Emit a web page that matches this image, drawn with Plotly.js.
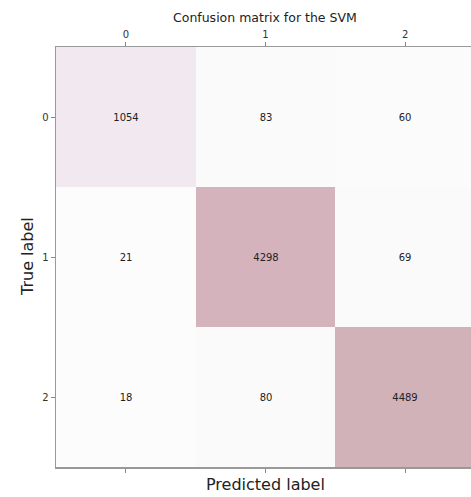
<!DOCTYPE html>
<html><head><meta charset="utf-8">
<script src="https://cdn.plot.ly/plotly-3.0.1.min.js"></script>
<style>html,body{margin:0;padding:0;overflow:hidden;background:#fff;}</style>
</head><body><div id="chart"></div>
<script>
const predictedLabels = [0, 1, 2];
const trueLabels = [0, 1, 2];
const row0 = [1054, 83, 60];
const row1 = [21, 4298, 69];
const row2 = [18, 80, 4489];
const z = [row0, row1, row2];
const zmax = 4489;

const trace = {
  type: 'heatmap',
  x: predictedLabels,
  y: trueLabels,
  z: z,
  zmin: 0,
  zmax: zmax,
  colorscale: [
    [0, '#fcfcfe'],
    [0.02, '#fafafa'],
    [1054/zmax, '#f1e8f0'],
    [4298/zmax, '#d5b3bd'],
    [1, '#d1b2b9']
  ],
  showscale: false,
  texttemplate: '%{z}',
  textfont: {family: 'DejaVu Sans', size: 10, color: '#222'},
  hoverinfo: 'skip'
};

const layout = {
  width: 480, height: 497,
  margin: {l: 56, r: 5, t: 47, b: 30},
  paper_bgcolor: '#fff', plot_bgcolor: '#fff',
  font: {family: 'DejaVu Sans', color: '#333'},
  xaxis: {
    side: 'top', tickvals: predictedLabels, ticktext: predictedLabels.map(String),
    range: [-0.5, 2.5], ticks: 'outside', ticklen: 4, tickcolor: '#888',
    showline: true, linecolor: '#999', linewidth: 1.5, mirror: 'ticks',
    showgrid: false, zeroline: false, tickfont: {size: 10, color: '#333'}
  },
  yaxis: {
    tickvals: trueLabels, ticktext: trueLabels.map(String),
    range: [2.5, -0.5], ticks: 'outside', ticklen: 4, tickcolor: '#888',
    showline: true, linecolor: '#999', linewidth: 1.5, mirror: 'ticks',
    showgrid: false, zeroline: false, tickfont: {size: 10, color: '#333'}
  },
  annotations: [
    {text: 'Confusion matrix for the SVM', xref: 'paper', yref: 'paper', x: (265-56)/419, y: (467-17)/420,
     xanchor: 'center', yanchor: 'middle', showarrow: false, font: {size: 12.5, color: '#222'}},
    {text: 'Predicted label', xref: 'paper', yref: 'paper', x: (265-56)/419, y: (467-484)/420,
     xanchor: 'center', yanchor: 'middle', showarrow: false, font: {size: 16, color: '#222'}},
    {text: 'True label', xref: 'paper', yref: 'paper', x: (27-56)/419, y: (467-257)/420,
     xanchor: 'center', yanchor: 'middle', textangle: -90, showarrow: false, font: {size: 16, color: '#222'}}
  ]
};

Plotly.newPlot('chart', [trace], layout, {displayModeBar: false, staticPlot: true});
</script></body></html>
